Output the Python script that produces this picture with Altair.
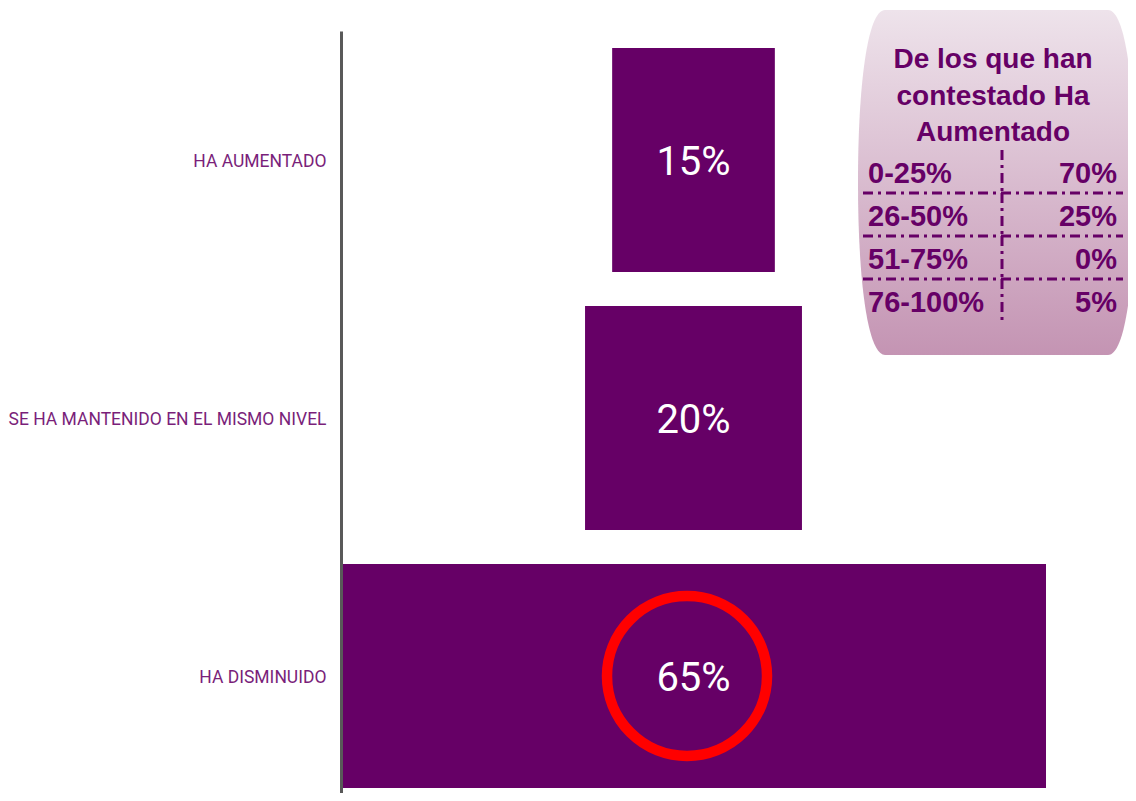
import altair as alt
import pandas as pd

# ---- data ----
categories = ["HA AUMENTADO", "SE HA MANTENIDO EN EL MISMO NIVEL", "HA DISMINUIDO"]
values = [15, 20, 65]
highlight = ["HA DISMINUIDO"]

inset_title = ["De los que han", "contestado Ha", "Aumentado"]
ranges = ["0-25%", "26-50%", "51-75%", "76-100%"]
shares = [70, 25, 0, 5]

PURPLE = "#660066"
LABEL_PURPLE = "#7a1f7a"

main_df = pd.DataFrame({"cat": categories, "value": values})
rows_df = pd.DataFrame({"rng": ranges, "share": shares, "row": list(range(len(ranges)))})

# ---- main funnel bars ----
y_enc = alt.Y(
    "cat:N",
    sort=categories,
    scale=alt.Scale(paddingInner=0.1318, paddingOuter=0.0426, align=0.773),
    axis=alt.Axis(
        title=None, ticks=False, labelPadding=15, labelFont="Roboto",
        labelFontSize=17.5, labelColor=LABEL_PURPLE, domainColor="#595959",
        domainWidth=3, zindex=1, labelLimit=400, labelOffset=2,
    ),
)
x_scale = alt.Scale(domain=[-32.5, 40.06], nice=False, zero=False)

base = alt.Chart(main_df).transform_calculate(
    x0="-datum.value/2", x1="datum.value/2", mid="0", label="datum.value + '%'"
)

bars = base.mark_bar(color=PURPLE, opacity=1).encode(
    x=alt.X("x0:Q", scale=x_scale, axis=None),
    x2="x1:Q",
    y=y_enc,
)

bar_text = base.mark_text(
    font="Roboto", fontSize=40, color="white", baseline="middle", align="center", dy=3
).encode(
    x=alt.X("mid:Q", scale=x_scale, axis=None),
    y=y_enc,
    text="label:N",
)

circle = base.transform_filter(
    alt.FieldOneOfPredicate(field="cat", oneOf=highlight)
).mark_point(
    shape="circle", size=25600, filled=False, stroke="#FF0000",
    strokeWidth=10.5, opacity=1, xOffset=-6.5,
).encode(
    x=alt.X("mid:Q", scale=x_scale, axis=None),
    y=y_enc,
)

main_layer = alt.layer(bars, bar_text, circle)

# ---- inset box ----
SHAPE = ("M -0.646 -1 L 0.646 -1 C 0.75 -1 0.803 -0.55 0.803 0 "
         "C 0.803 0.55 0.75 1 0.646 1 L -0.646 1 C -0.75 1 -0.803 0.55 -0.803 0 "
         "C -0.803 -0.55 -0.75 -1 -0.646 -1 Z")
grad = alt.Gradient(
    gradient="linear",
    stops=[alt.GradientStop(color="#EEE3EB", offset=0),
           alt.GradientStop(color="#C494B3", offset=1)],
    x1=0, x2=0, y1=0, y2=1,
)
one = alt.Data(values=[{"k": 1}])

shape = alt.Chart(one).mark_point(
    shape=SHAPE, size=119025, fill=grad, filled=True, strokeWidth=0, opacity=1
).encode(x=alt.value(655.5), y=alt.value(151.5))

title = alt.Chart(one).mark_text(
    text=inset_title, lineHeight=36.5, fontSize=28, font="Liberation Sans",
    fontWeight="bold", color=PURPLE, align="center", baseline="middle",
).encode(x=alt.value(652), y=alt.value(29))

row_scale = alt.Scale(domain=[0, 4], range=[119, 291])
rows_base = alt.Chart(rows_df).transform_calculate(
    yc="datum.row + 0.5", row_end="datum.row + 1", pct="datum.share + '%'"
)

hlines = rows_base.transform_filter("datum.row >= 1").mark_rule(
    color=PURPLE, strokeWidth=3, strokeDash=[10, 5, 3, 5]
).encode(
    y=alt.Y("row:Q", scale=row_scale, axis=None),
    x=alt.value(522), x2=alt.value(782),
)

vline = rows_base.mark_rule(
    color=PURPLE, strokeWidth=3, strokeDash=[10, 5, 3, 5]
).encode(
    y=alt.Y("row:Q", scale=row_scale, axis=None),
    y2="row_end:Q",
    x=alt.value(661),
)

left_text = rows_base.mark_text(
    font="Liberation Sans", fontWeight="bold", fontSize=29, color=PURPLE,
    align="left", baseline="middle", yOffset=2,
).encode(
    y=alt.Y("yc:Q", scale=row_scale, axis=None),
    x=alt.value(527),
    text="rng:N",
)

right_text = rows_base.mark_text(
    font="Liberation Sans", fontWeight="bold", fontSize=29, color=PURPLE,
    align="right", baseline="middle", yOffset=2,
).encode(
    y=alt.Y("yc:Q", scale=row_scale, axis=None),
    x=alt.value(776),
    text="pct:N",
)

inset_layer = alt.layer(shape, title, hlines, vline, left_text, right_text)

chart = alt.layer(main_layer, inset_layer).resolve_scale(y="independent").properties(
    width=787, height=762,
    autosize=alt.AutoSizeParams(type="none"),
    padding={"left": 333, "top": 23, "right": 0, "bottom": 0},
    background="white",
).configure_view(stroke=None)

chart.save("out.html", embed_options={"renderer": "svg", "actions": False})
